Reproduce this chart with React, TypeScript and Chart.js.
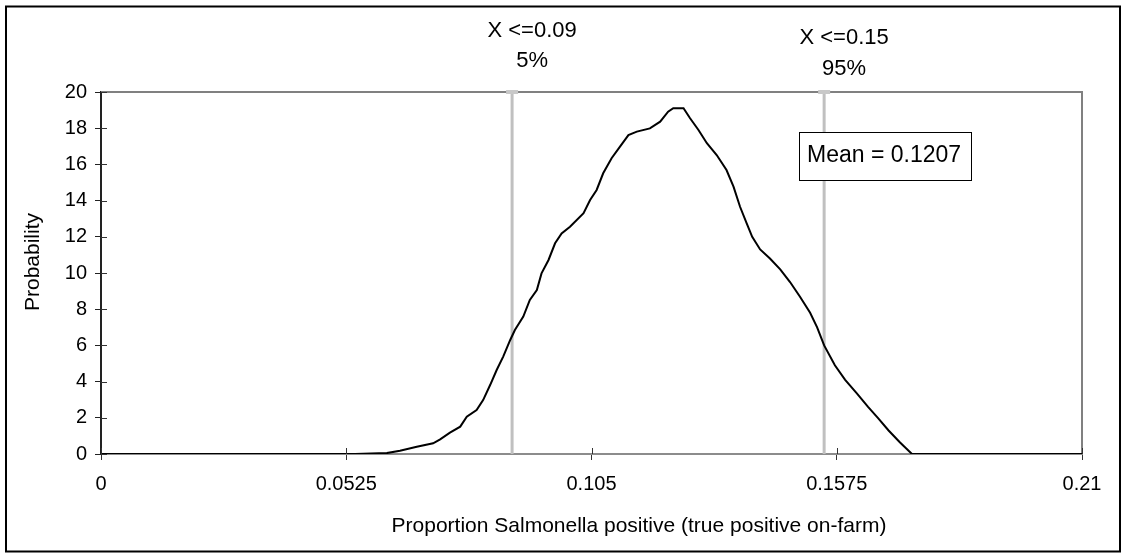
import React, { useEffect, useRef } from "react";
import { Chart, registerables } from "chart.js";

Chart.register(...registerables);

// Proportion Salmonella positive (x) and probability density (y)
const proportionValues = [
  0.0, 0.0544, 0.0612, 0.064, 0.0676, 0.0711, 0.0726, 0.0747, 0.0769, 0.0783,
  0.0804, 0.0818, 0.0833, 0.0847, 0.0861, 0.0876, 0.0886, 0.0904, 0.0918, 0.0933,
  0.0943, 0.0958, 0.0972, 0.0986, 0.1004, 0.1033, 0.1047, 0.1061, 0.1075, 0.1093,
  0.1111, 0.1129, 0.1147, 0.1175, 0.1197, 0.1214, 0.1225, 0.1247, 0.1261, 0.1279,
  0.1297, 0.1318, 0.1339, 0.1354, 0.1368, 0.1382, 0.1394, 0.1411, 0.1432, 0.1454,
  0.1475, 0.1496, 0.1518, 0.1533, 0.1548, 0.1571, 0.1593, 0.1618, 0.1642, 0.1663,
  0.1686, 0.171, 0.1736, 0.21,
];
const probabilityValues = [
  0, 0, 0.05, 0.18, 0.4, 0.59, 0.81, 1.18, 1.51, 2.06,
  2.43, 2.98, 3.81, 4.64, 5.38, 6.3, 6.85, 7.59, 8.51, 9.06,
  9.98, 10.72, 11.64, 12.19, 12.56, 13.3, 14.03, 14.59, 15.51, 16.34,
  16.98, 17.62, 17.81, 17.99, 18.36, 18.91, 19.1, 19.1, 18.55, 17.9,
  17.17, 16.52, 15.69, 14.77, 13.66, 12.75, 12.0, 11.3, 10.8, 10.2,
  9.5, 8.7, 7.8, 7.0, 6.0, 4.9, 4.1, 3.35, 2.6, 2.0,
  1.3, 0.65, 0, 0,
];

const xTickValues = [0, 0.0525, 0.105, 0.1575, 0.21];
const xTickLabels = ["0", "0.0525", "0.105", "0.1575", "0.21"];
const yMin = 0;
const yMax = 20;
const yStep = 2;

const percentile5 = 0.088;
const percentile95 = 0.1548;
const percentile5Labels = ["X <=0.09", "5%"];
const percentile95Labels = ["X <=0.15", "95%"];
const meanLabel = "Mean = 0.1207";
const xTitle = "Proportion Salmonella positive (true positive on-farm)";
const yTitle = "Probability";

const FONT = "'Liberation Sans', Arial, sans-serif";

const decorPlugin = {
  id: "decor",
  beforeDraw(chart: any) {
    const { ctx, width, height } = chart;
    ctx.save();
    ctx.fillStyle = "#ffffff";
    ctx.fillRect(0, 0, width, height);
    ctx.strokeStyle = "#000000";
    ctx.lineWidth = 2;
    ctx.strokeRect(6, 6.5, 1114, 545);
    ctx.restore();
  },
  beforeDatasetsDraw(chart: any) {
    const { ctx, chartArea } = chart;
    ctx.save();
    ctx.strokeStyle = "#808080";
    ctx.lineWidth = 2;
    ctx.beginPath();
    ctx.moveTo(chartArea.left, chartArea.top);
    ctx.lineTo(chartArea.right, chartArea.top);
    ctx.lineTo(chartArea.right, chartArea.bottom);
    ctx.stroke();
    ctx.restore();
  },
  afterDraw(chart: any) {
    const { ctx, chartArea, scales } = chart;
    const xs = scales.x;
    const ys = scales.y;
    ctx.save();
    // inner tick marks
    ctx.strokeStyle = "#333333";
    ctx.lineWidth = 1;
    for (let v = yMin; v <= yMax; v += yStep) {
      const py = Math.round(ys.getPixelForValue(v)) + 0.5;
      ctx.beginPath();
      ctx.moveTo(chartArea.left, py);
      ctx.lineTo(chartArea.left + 6, py);
      ctx.stroke();
    }
    xTickValues.forEach((v) => {
      const px = Math.round(xs.getPixelForValue(v)) + 0.5;
      ctx.beginPath();
      ctx.moveTo(px, chartArea.bottom);
      ctx.lineTo(px, chartArea.bottom - 6);
      ctx.stroke();
    });

    // percentile labels
    ctx.fillStyle = "#000000";
    ctx.textAlign = "center";
    ctx.textBaseline = "alphabetic";
    ctx.font = `22px ${FONT}`;
    const p5x = xs.getPixelForValue(percentile5) + 20;
    ctx.fillText(percentile5Labels[0], p5x, chartArea.top - 55);
    ctx.fillText(percentile5Labels[1], p5x, chartArea.top - 25);
    const p95x = xs.getPixelForValue(percentile95) + 20;
    ctx.fillText(percentile95Labels[0], p95x, chartArea.top - 48);
    ctx.fillText(percentile95Labels[1], p95x, chartArea.top - 17);

    // mean box
    const bx = chartArea.left + 698;
    const by = chartArea.top + 40;
    ctx.fillStyle = "#ffffff";
    ctx.fillRect(bx, by, 172, 48);
    ctx.strokeStyle = "#000000";
    ctx.lineWidth = 1;
    ctx.strokeRect(bx + 0.5, by + 0.5, 172, 48);
    ctx.fillStyle = "#000000";
    ctx.textAlign = "left";
    ctx.font = `23px ${FONT}`;
    ctx.fillText(meanLabel, bx + 8, by + 30);

    // axis titles
    ctx.font = `21px ${FONT}`;
    ctx.textAlign = "center";
    ctx.textBaseline = "middle";
    ctx.fillText(xTitle, chartArea.left + 538, chartArea.bottom + 72);
    ctx.save();
    ctx.translate(33, chartArea.top + 170);
    ctx.rotate(-Math.PI / 2);
    ctx.fillText(yTitle, 0, 0);
    ctx.restore();
    ctx.restore();
  },
};

export default function App() {
  const canvasRef = useRef<HTMLCanvasElement | null>(null);

  useEffect(() => {
    const canvas = canvasRef.current;
    if (!canvas) return;
    const curve = proportionValues.map((x, i) => ({ x, y: probabilityValues[i] }));
    const chart = new Chart(canvas, {
      type: "line",
      data: {
        datasets: [
          {
            data: curve,
            borderColor: "#000000",
            borderWidth: 2,
            pointRadius: 0,
            tension: 0,
            fill: false,
          },
          {
            data: [
              { x: percentile5, y: yMin },
              { x: percentile5, y: yMax },
            ],
            borderColor: "#c0c0c0",
            backgroundColor: "#c0c0c0",
            borderWidth: 3,
            pointRadius: [0, 6],
            pointStyle: "line",
            pointBorderColor: "#c8c8c8",
            pointBorderWidth: 4,
            clip: false,
          },
          {
            data: [
              { x: percentile95, y: yMin },
              { x: percentile95, y: yMax },
            ],
            borderColor: "#c0c0c0",
            backgroundColor: "#c0c0c0",
            borderWidth: 3,
            pointRadius: [0, 6],
            pointStyle: "line",
            pointBorderColor: "#c8c8c8",
            pointBorderWidth: 4,
            clip: false,
          },
        ],
      },
      options: {
        animation: false,
        responsive: false,
        maintainAspectRatio: false,
        layout: { padding: { top: 92, right: 44, left: 0, bottom: 0 } },
        plugins: {
          legend: { display: false },
          tooltip: { enabled: false },
          title: { display: false },
        },
        scales: {
          x: {
            type: "linear",
            min: 0,
            max: 0.21,
            afterFit: (scale: any) => {
              scale.height = 104;
            },
            afterBuildTicks: (scale: any) => {
              scale.ticks = xTickValues.map((v) => ({ value: v }));
            },
            ticks: {
              autoSkip: false,
              maxRotation: 0,
              padding: 12,
              color: "#000000",
              font: { family: FONT, size: 20 },
              callback: (value: any) => {
                const idx = xTickValues.findIndex((t) => Math.abs(t - Number(value)) < 1e-9);
                return idx >= 0 ? xTickLabels[idx] : "";
              },
            },
            grid: {
              display: true,
              drawOnChartArea: false,
              drawTicks: true,
              tickLength: 6,
              color: "#333333",
            },
            border: { display: true, color: "#8c8c8c", width: 2 },
          },
          y: {
            type: "linear",
            min: yMin,
            max: yMax,
            afterFit: (scale: any) => {
              scale.width = 101;
            },
            ticks: {
              stepSize: yStep,
              padding: 8,
              color: "#000000",
              font: { family: FONT, size: 20 },
            },
            grid: {
              display: true,
              drawOnChartArea: false,
              drawTicks: true,
              tickLength: 6,
              color: "#222222",
            },
            border: { display: true, color: "#222222", width: 2 },
          },
        },
      },
      plugins: [decorPlugin],
    });
    return () => chart.destroy();
  }, []);

  return (
    <div style={{ position: "absolute", left: 0, top: 0, width: 1126, height: 558, background: "#fff" }}>
      <canvas ref={canvasRef} width={1126} height={558} style={{ display: "block" }} />
    </div>
  );
}
